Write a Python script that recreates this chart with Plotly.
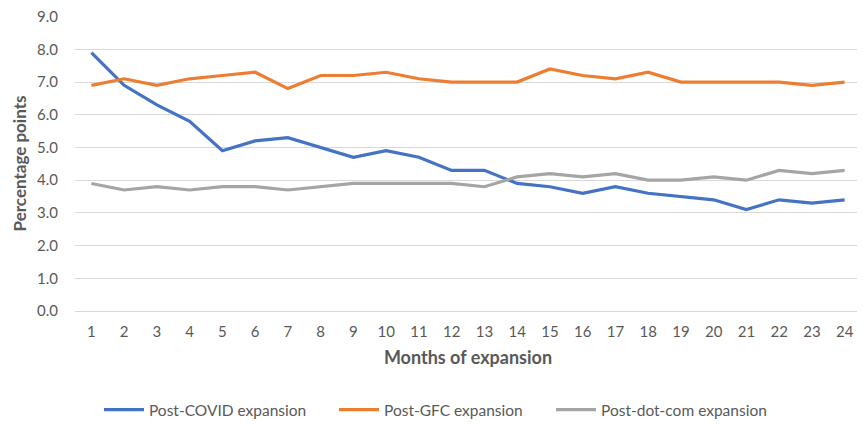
import plotly.graph_objects as go

months = [str(i) for i in range(1, 25)]
post_covid = [7.9, 6.9, 6.3, 5.8, 4.9, 5.2, 5.3, 5.0, 4.7, 4.9, 4.7, 4.3, 4.3, 3.9, 3.8, 3.6, 3.8, 3.6, 3.5, 3.4, 3.1, 3.4, 3.3, 3.4]
post_gfc = [6.9, 7.1, 6.9, 7.1, 7.2, 7.3, 6.8, 7.2, 7.2, 7.3, 7.1, 7.0, 7.0, 7.0, 7.4, 7.2, 7.1, 7.3, 7.0, 7.0, 7.0, 7.0, 6.9, 7.0]
post_dotcom = [3.9, 3.7, 3.8, 3.7, 3.8, 3.8, 3.7, 3.8, 3.9, 3.9, 3.9, 3.9, 3.8, 4.1, 4.2, 4.1, 4.2, 4.0, 4.0, 4.1, 4.0, 4.3, 4.2, 4.3]
y_ticks = [i for i in range(0, 10)]
y_tick_labels = [f"{v:.1f}" for v in y_ticks]

series = [
    ("Post-COVID expansion", post_covid, "#4472C4", "legend", 0.0305),
    ("Post-GFC expansion", post_gfc, "#ED7D31", "legend2", 0.3295),
    ("Post-dot-com expansion", post_dotcom, "#A5A5A5", "legend3", 0.6056),
]

FONT = "Lato, sans-serif"

fig = go.Figure()
legend_cfg = {}
for name, vals, color, lg, lx in series:
    fig.add_trace(go.Scatter(x=months, y=vals, name=name, mode="lines",
                             legend=lg, showlegend=True,
                             line=dict(color=color, width=3.2)))
    legend_cfg[lg] = dict(orientation="h", x=lx, xanchor="left",
                          yref="container", y=0.0337, yanchor="middle",
                          font=dict(size=15.5, color="#595959"), itemwidth=40,
                          bgcolor="rgba(0,0,0,0)")

fig.update_layout(
    width=857, height=416,
    margin=dict(l=67, r=4, t=8, b=113),
    plot_bgcolor="white", paper_bgcolor="white",
    font=dict(family=FONT, size=15, color="#595959"),
    showlegend=True,
    **legend_cfg,
    xaxis=dict(type="category", range=[-0.5, 23.5], showgrid=False,
               showline=True, linecolor="#D9D9D9", ticks="", automargin=False,
               ticklabelstandoff=7,
               tickfont=dict(size=15, color="#595959"),
               title=dict(text="<b>Months of expansion</b>", standoff=12,
                          font=dict(size=18, color="#595959"))),
    yaxis=dict(range=[0, 9.02], tickvals=y_ticks, ticktext=y_tick_labels,
               showgrid=True, gridcolor="#D9D9D9", gridwidth=1, zeroline=False,
               showline=False, ticks="", automargin=False, ticklabelstandoff=16,
               ticklabeloverflow="allow",
               tickfont=dict(size=15, color="#595959"),
               title=dict(text="<b>Percentage points</b>", standoff=6,
                          font=dict(size=17, color="#595959"))),
)

fig.write_html("out.html")
